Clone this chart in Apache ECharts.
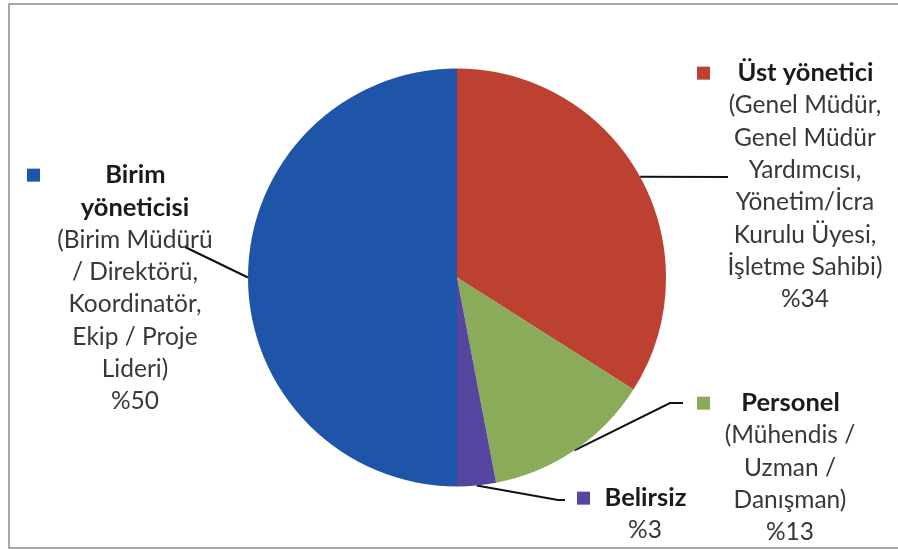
<!DOCTYPE html>
<html>
<head>
<meta charset="utf-8">
<script src="https://cdn.jsdelivr.net/npm/echarts@6/dist/echarts.min.js"></script>
<style>
  html, body { margin: 0; padding: 0; background: #ffffff; }
  #chart { width: 898px; height: 549px; }
</style>
</head>
<body>
<div id="chart"></div>
<script>
// Slice order (clockwise from 12 o'clock)
const categories = ['Üst yönetici', 'Personel', 'Belirsiz', 'Birim yöneticisi'];
const shares = [34, 13, 3, 50];
const colors = ['#bd4130', '#8aab5a', '#5746a0', '#1f55a8'];

// Bold heading lines and plain description lines for each label
const headings = [
  ['Üst yönetici'],
  ['Personel'],
  ['Belirsiz'],
  ['Birim', 'yöneticisi']
];
const descriptions = [
  ['(Genel Müdür,', 'Genel Müdür', 'Yardımcısı,', 'Yönetim/İcra', 'Kurulu Üyesi,', 'İşletme Sahibi)'],
  ['(Mühendis /', 'Uzman /', 'Danışman)'],
  [],
  ['(Birim Müdürü', '/ Direktörü,', 'Koordinatör,', 'Ekip / Proje', 'Lideri)']
];

// Label block placement: left edge (where the colour key sits), top edge, block width
const labelBoxes = [
  { left: 697, top: 57, width: 216 },
  { left: 697, top: 387, width: 186 },
  { left: 577, top: 482, width: 136 },
  { left: 27, top: 159, width: 216 }
];

// Leader line routing, relative to each label block: [turn point, end point]
const leaderOffsets = [
  [[31, 120], [31, 120]],
  [[-27, 16], [-14, 16]],
  [[-19, 18], [-12, 18]],
  [[158, 88], [158, 88]]
];

const FONT = 'Lato, "Open Sans", sans-serif';
const LINE_H = 32.3;

const rich = {
  b: { fontFamily: FONT, fontSize: 25.5, fontWeight: 'bold', color: '#1b1b1b', lineHeight: LINE_H, align: 'center' },
  t: { fontFamily: FONT, fontSize: 24.5, color: '#383838', lineHeight: LINE_H, align: 'center' },
  sp: { width: 12, height: 12, lineHeight: LINE_H, align: 'right' }
};
colors.forEach(function (c, i) {
  rich['sq' + i] = { width: 13, height: 13, backgroundColor: c, lineHeight: LINE_H, align: 'left' };
});

function labelText(i) {
  const lines = [];
  headings[i].forEach(function (h, k) {
    if (k === 0) lines.push('{sq' + i + '|}{b|' + h + '}{sp|}');
    else lines.push('{b|' + h + '}');
  });
  descriptions[i].forEach(function (d) { lines.push('{t|' + d + '}'); });
  lines.push('{t|%' + shares[i] + '}');
  return lines.join('\n');
}

const data = categories.map(function (name, i) {
  return { name: name, value: shares[i], itemStyle: { color: colors[i] } };
});

const chart = echarts.init(document.getElementById('chart'), null, { renderer: 'canvas' });
chart.setOption({
  animation: false,
  backgroundColor: '#ffffff',
  graphic: [{
    type: 'rect',
    shape: { x: 9, y: 4, width: 900, height: 544 },
    style: { fill: 'none', stroke: '#8c8c8c', lineWidth: 1.5 },
    silent: true,
    z: -1
  }],
  series: [{
    type: 'pie',
    center: [457, 277.5],
    radius: 209,
    startAngle: 90,
    clockwise: true,
    data: data,
    emphasis: { disabled: true },
    itemStyle: { borderWidth: 0 },
    label: {
      show: true,
      position: 'outside',
      overflow: 'none',
      formatter: function (p) { return labelText(p.dataIndex); },
      rich: rich
    },
    labelLine: {
      show: true,
      length: 20,
      length2: 10,
      lineStyle: { color: '#111111', width: 2 }
    },
    labelLayout: function (p) {
      const i = p.dataIndex;
      const box = labelBoxes[i];
      const off = leaderOffsets[i];
      const anchor = p.labelLinePoints ? p.labelLinePoints[0] : null;
      const out = {
        x: box.left,
        y: box.top,
        align: 'left',
        verticalAlign: 'top',
        width: box.width,
        hideOverlap: false,
        moveOverlap: false
      };
      if (anchor) {
        out.labelLinePoints = [
          anchor,
          [box.left + off[0][0], box.top + off[0][1]],
          [box.left + off[1][0], box.top + off[1][1]]
        ];
      }
      return out;
    }
  }]
});
</script>
</body>
</html>
